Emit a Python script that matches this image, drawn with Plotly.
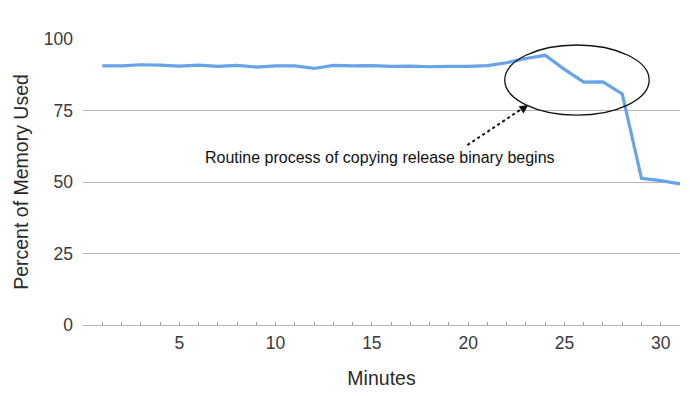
import plotly.graph_objects as go

minutes = list(range(1, 32))
memory_pct = [90.6, 90.6, 91.0, 90.9, 90.5, 90.9, 90.4, 90.8, 90.2, 90.6,
              90.6, 89.7, 90.8, 90.6, 90.7, 90.4, 90.5, 90.3, 90.4, 90.4,
              90.7, 91.7, 93.2, 94.3, 89.4, 84.9, 85.0, 80.8, 51.3, 50.5, 49.3]
x_tick_vals = list(range(0, 32))
x_tick_text = [str(v) if v % 5 == 0 and v > 0 else "" for v in x_tick_vals]
y_tick_vals = [0, 25, 50, 75, 100]
annotation_text = "Routine process of copying release binary begins"

FONT = "Liberation Sans, Arial, Helvetica, sans-serif"

fig = go.Figure()
fig.add_trace(go.Scatter(
    x=minutes, y=memory_pct, mode="lines",
    line=dict(color="#66a3e8", width=3.2),
    showlegend=False, hoverinfo="skip",
))

# ellipse highlighting the drop
fig.add_shape(type="circle", xref="x", yref="y",
              x0=21.9, x1=29.4, y0=73.4, y1=97.9,
              line=dict(color="#111111", width=1.3))

# dotted arrow shaft
fig.add_shape(type="line", xref="x", yref="y",
              x0=19.96, y0=62.9, x1=22.9, y1=76.1,
              line=dict(color="#111111", width=2, dash="dot"))
# arrow head
fig.add_annotation(x=23.13, y=76.9, xref="x", yref="y",
                   ax=-8, ay=5.2, axref="pixel", ayref="pixel",
                   text="", showarrow=True, arrowhead=2, arrowsize=1.1,
                   arrowwidth=1.6, arrowcolor="#111111")

fig.add_annotation(x=15.4, y=58.4, xref="x", yref="y",
                   text=annotation_text, showarrow=False,
                   font=dict(family=FONT, size=16, color="#111111"))

fig.update_layout(
    width=692, height=396,
    margin=dict(l=75, r=20, t=31, b=79),
    paper_bgcolor="white", plot_bgcolor="white",
    font=dict(family=FONT, color="#3a3a3a"),
    xaxis=dict(
        range=[0, 31], tickmode="array", tickvals=x_tick_vals, ticktext=x_tick_text,
        showgrid=False, zeroline=False, showline=True, linecolor="#b5b5b5", linewidth=1,
        ticks="inside", ticklen=3, tickcolor="#a0a0a0", tickwidth=1,
        tickfont=dict(size=17.5, color="#3a3a3a"), ticklabelstandoff=2,
        title=dict(text="Minutes", font=dict(size=19.5, color="#2a2a2a"), standoff=19),
        fixedrange=True, automargin=False,
    ),
    yaxis=dict(
        range=[0, 100], tickmode="array", tickvals=y_tick_vals,
        showgrid=True, gridcolor="#b5b5b5", gridwidth=1, zeroline=False,
        showline=False, ticks="", tickfont=dict(size=17.5, color="#3a3a3a"),
        ticklabelstandoff=9,
        title=dict(text="Percent of Memory Used", font=dict(size=19.5, color="#2a2a2a"), standoff=9),
        fixedrange=True, automargin=False,
    ),
)

fig.write_html("out.html")
